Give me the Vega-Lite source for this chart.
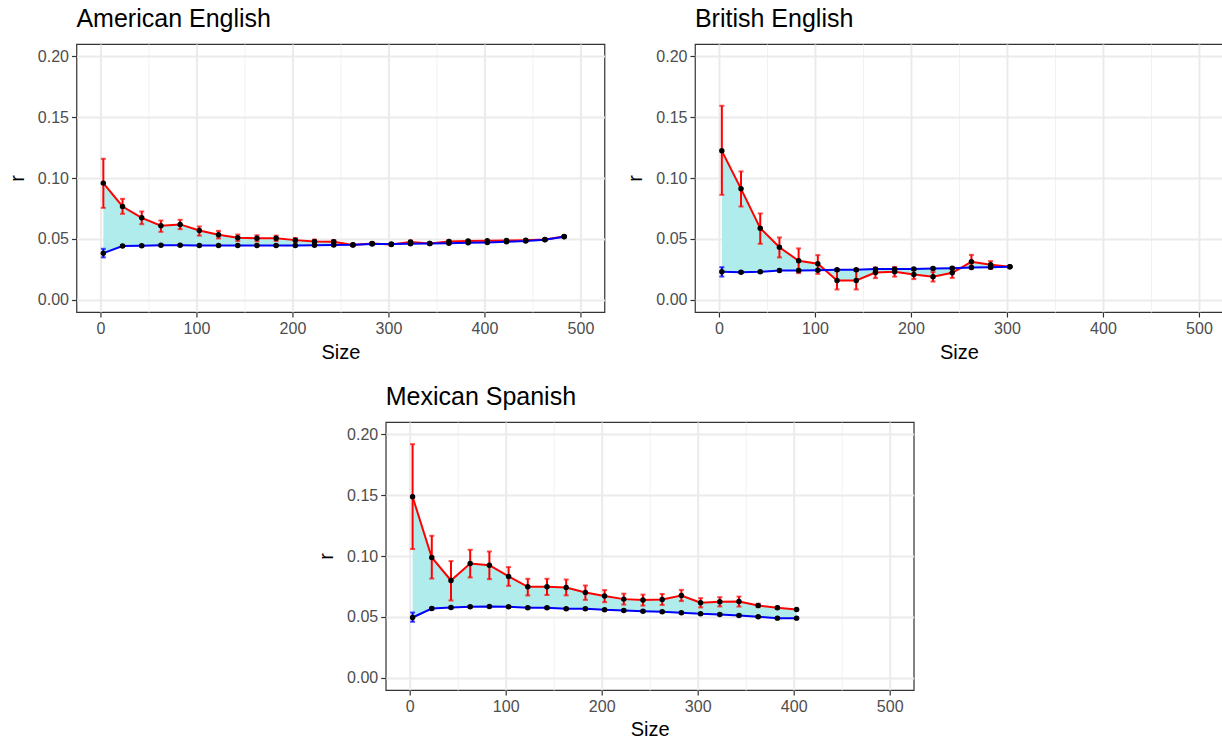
{
  "$schema": "https://vega.github.io/schema/vega-lite/v6.json",
  "background": "white",
  "padding": {"left": 6, "top": 6, "right": 0, "bottom": 0},
  "config": {
    "font": "Liberation Sans",
    "view": {"stroke": "#333333", "strokeWidth": 1.2},
    "axis": {
      "labelFont": "Liberation Sans", "labelFontSize": 16, "labelColor": "#4d4d4d",
      "titleFont": "Liberation Sans", "titleFontSize": 20, "titleColor": "#000000", "titleFontWeight": "normal",
      "tickColor": "#333333", "tickSize": 5, "tickWidth": 1.2, "domain": false,
      "gridColor": "#ebebeb", "labelPadding": 3
    },
    "title": {"font": "Liberation Sans", "fontSize": 25, "fontWeight": "normal", "anchor": "start", "frame": "group", "color": "#000000", "baseline": "alphabetic", "offset": 12},
    "concat": {"spacing": 19.5}
  },
  "datasets": {
    "d": [
      {"lang": "American English", "size": 3, "red": 0.0958, "redLo": 0.0755, "redHi": 0.1158, "blue": 0.0383, "blueLo": 0.0348, "blueHi": 0.0419},
      {"lang": "American English", "size": 23, "red": 0.0766, "redLo": 0.0706, "redHi": 0.0829, "blue": 0.0441, "blueLo": 0.0434, "blueHi": 0.0448},
      {"lang": "American English", "size": 43, "red": 0.0673, "redLo": 0.0621, "redHi": 0.0725, "blue": 0.0443, "blueLo": 0.0437, "blueHi": 0.0449},
      {"lang": "American English", "size": 63, "red": 0.0608, "redLo": 0.0558, "redHi": 0.0651, "blue": 0.0448, "blueLo": 0.0443, "blueHi": 0.0453},
      {"lang": "American English", "size": 83, "red": 0.0619, "redLo": 0.0580, "redHi": 0.0657, "blue": 0.0448, "blueLo": 0.0443, "blueHi": 0.0453},
      {"lang": "American English", "size": 103, "red": 0.0569, "redLo": 0.0527, "redHi": 0.0602, "blue": 0.0446, "blueLo": 0.0441, "blueHi": 0.0451},
      {"lang": "American English", "size": 123, "red": 0.0534, "redLo": 0.0504, "redHi": 0.0566, "blue": 0.0446, "blueLo": 0.0441, "blueHi": 0.0451},
      {"lang": "American English", "size": 143, "red": 0.0509, "redLo": 0.0482, "redHi": 0.0536, "blue": 0.0446, "blueLo": 0.0441, "blueHi": 0.0451},
      {"lang": "American English", "size": 163, "red": 0.0505, "redLo": 0.0480, "redHi": 0.0530, "blue": 0.0446, "blueLo": 0.0441, "blueHi": 0.0451},
      {"lang": "American English", "size": 183, "red": 0.0505, "redLo": 0.0483, "redHi": 0.0527, "blue": 0.0446, "blueLo": 0.0441, "blueHi": 0.0451},
      {"lang": "American English", "size": 203, "red": 0.0490, "redLo": 0.0472, "redHi": 0.0508, "blue": 0.0446, "blueLo": 0.0441, "blueHi": 0.0451},
      {"lang": "American English", "size": 223, "red": 0.0478, "redLo": 0.0462, "redHi": 0.0494, "blue": 0.0448, "blueLo": 0.0443, "blueHi": 0.0453},
      {"lang": "American English", "size": 243, "red": 0.0476, "redLo": 0.0461, "redHi": 0.0491, "blue": 0.0450, "blueLo": 0.0445, "blueHi": 0.0455},
      {"lang": "American English", "size": 263, "red": 0.0450, "redLo": 0.0440, "redHi": 0.0460, "blue": 0.0452, "blueLo": 0.0447, "blueHi": 0.0457},
      {"lang": "American English", "size": 283, "red": 0.0462, "redLo": 0.0452, "redHi": 0.0472, "blue": 0.0458, "blueLo": 0.0453, "blueHi": 0.0463},
      {"lang": "American English", "size": 303, "red": 0.0455, "redLo": 0.0446, "redHi": 0.0464, "blue": 0.0458, "blueLo": 0.0453, "blueHi": 0.0463},
      {"lang": "American English", "size": 323, "red": 0.0474, "redLo": 0.0462, "redHi": 0.0486, "blue": 0.0460, "blueLo": 0.0455, "blueHi": 0.0465},
      {"lang": "American English", "size": 343, "red": 0.0462, "redLo": 0.0455, "redHi": 0.0469, "blue": 0.0462, "blueLo": 0.0457, "blueHi": 0.0467},
      {"lang": "American English", "size": 363, "red": 0.0479, "redLo": 0.0470, "redHi": 0.0488, "blue": 0.0465, "blueLo": 0.0460, "blueHi": 0.0470},
      {"lang": "American English", "size": 383, "red": 0.0482, "redLo": 0.0474, "redHi": 0.0490, "blue": 0.0468, "blueLo": 0.0463, "blueHi": 0.0473},
      {"lang": "American English", "size": 403, "red": 0.0484, "redLo": 0.0477, "redHi": 0.0491, "blue": 0.0471, "blueLo": 0.0466, "blueHi": 0.0476},
      {"lang": "American English", "size": 423, "red": 0.0487, "redLo": 0.0481, "redHi": 0.0493, "blue": 0.0476, "blueLo": 0.0471, "blueHi": 0.0481},
      {"lang": "American English", "size": 443, "red": 0.0490, "redLo": 0.0485, "redHi": 0.0495, "blue": 0.0482, "blueLo": 0.0477, "blueHi": 0.0487},
      {"lang": "American English", "size": 463, "red": 0.0495, "redLo": 0.0491, "redHi": 0.0499, "blue": 0.0493, "blueLo": 0.0489, "blueHi": 0.0497},
      {"lang": "American English", "size": 483, "red": 0.0520, "redLo": 0.0517, "redHi": 0.0523, "blue": 0.0518, "blueLo": 0.0515, "blueHi": 0.0521},

      {"lang": "British English", "size": 3, "red": 0.1223, "redLo": 0.0862, "redHi": 0.1593, "blue": 0.0230, "blueLo": 0.0191, "blueHi": 0.0268},
      {"lang": "British English", "size": 23, "red": 0.0911, "redLo": 0.0766, "redHi": 0.1054, "blue": 0.0227, "blueLo": 0.0220, "blueHi": 0.0234},
      {"lang": "British English", "size": 43, "red": 0.0588, "redLo": 0.0460, "redHi": 0.0709, "blue": 0.0230, "blueLo": 0.0223, "blueHi": 0.0237},
      {"lang": "British English", "size": 63, "red": 0.0432, "redLo": 0.0348, "redHi": 0.0512, "blue": 0.0241, "blueLo": 0.0234, "blueHi": 0.0248},
      {"lang": "British English", "size": 83, "red": 0.0320, "redLo": 0.0219, "redHi": 0.0422, "blue": 0.0241, "blueLo": 0.0234, "blueHi": 0.0248},
      {"lang": "British English", "size": 103, "red": 0.0296, "redLo": 0.0213, "redHi": 0.0367, "blue": 0.0243, "blueLo": 0.0236, "blueHi": 0.0250},
      {"lang": "British English", "size": 123, "red": 0.0159, "redLo": 0.0085, "redHi": 0.0240, "blue": 0.0246, "blueLo": 0.0239, "blueHi": 0.0253},
      {"lang": "British English", "size": 143, "red": 0.0159, "redLo": 0.0085, "redHi": 0.0240, "blue": 0.0246, "blueLo": 0.0239, "blueHi": 0.0253},
      {"lang": "British English", "size": 163, "red": 0.0224, "redLo": 0.0178, "redHi": 0.0265, "blue": 0.0252, "blueLo": 0.0245, "blueHi": 0.0259},
      {"lang": "British English", "size": 183, "red": 0.0230, "redLo": 0.0190, "redHi": 0.0270, "blue": 0.0252, "blueLo": 0.0245, "blueHi": 0.0259},
      {"lang": "British English", "size": 203, "red": 0.0208, "redLo": 0.0170, "redHi": 0.0246, "blue": 0.0254, "blueLo": 0.0247, "blueHi": 0.0261},
      {"lang": "British English", "size": 223, "red": 0.0189, "redLo": 0.0150, "redHi": 0.0228, "blue": 0.0257, "blueLo": 0.0250, "blueHi": 0.0264},
      {"lang": "British English", "size": 243, "red": 0.0222, "redLo": 0.0180, "redHi": 0.0264, "blue": 0.0260, "blueLo": 0.0253, "blueHi": 0.0267},
      {"lang": "British English", "size": 263, "red": 0.0312, "redLo": 0.0260, "redHi": 0.0369, "blue": 0.0265, "blueLo": 0.0258, "blueHi": 0.0272},
      {"lang": "British English", "size": 283, "red": 0.0287, "redLo": 0.0255, "redHi": 0.0318, "blue": 0.0268, "blueLo": 0.0262, "blueHi": 0.0274},
      {"lang": "British English", "size": 303, "red": 0.0271, "redLo": 0.0268, "redHi": 0.0274, "blue": 0.0271, "blueLo": 0.0268, "blueHi": 0.0274},

      {"lang": "Mexican Spanish", "size": 3, "red": 0.1486, "redLo": 0.1057, "redHi": 0.1918, "blue": 0.0495, "blueLo": 0.0460, "blueHi": 0.0536},
      {"lang": "Mexican Spanish", "size": 23, "red": 0.0988, "redLo": 0.0815, "redHi": 0.1166, "blue": 0.0569, "blueLo": 0.0562, "blueHi": 0.0576},
      {"lang": "Mexican Spanish", "size": 43, "red": 0.0799, "redLo": 0.0635, "redHi": 0.0958, "blue": 0.0577, "blueLo": 0.0571, "blueHi": 0.0583},
      {"lang": "Mexican Spanish", "size": 63, "red": 0.0939, "redLo": 0.0824, "redHi": 0.1051, "blue": 0.0583, "blueLo": 0.0577, "blueHi": 0.0589},
      {"lang": "Mexican Spanish", "size": 83, "red": 0.0925, "redLo": 0.0810, "redHi": 0.1037, "blue": 0.0585, "blueLo": 0.0579, "blueHi": 0.0591},
      {"lang": "Mexican Spanish", "size": 103, "red": 0.0832, "redLo": 0.0755, "redHi": 0.0909, "blue": 0.0583, "blueLo": 0.0577, "blueHi": 0.0589},
      {"lang": "Mexican Spanish", "size": 123, "red": 0.0747, "redLo": 0.0676, "redHi": 0.0813, "blue": 0.0575, "blueLo": 0.0569, "blueHi": 0.0581},
      {"lang": "Mexican Spanish", "size": 143, "red": 0.0747, "redLo": 0.0680, "redHi": 0.0813, "blue": 0.0575, "blueLo": 0.0569, "blueHi": 0.0581},
      {"lang": "Mexican Spanish", "size": 163, "red": 0.0742, "redLo": 0.0677, "redHi": 0.0807, "blue": 0.0567, "blueLo": 0.0561, "blueHi": 0.0573},
      {"lang": "Mexican Spanish", "size": 183, "red": 0.0700, "redLo": 0.0640, "redHi": 0.0758, "blue": 0.0567, "blueLo": 0.0561, "blueHi": 0.0573},
      {"lang": "Mexican Spanish", "size": 203, "red": 0.0671, "redLo": 0.0621, "redHi": 0.0720, "blue": 0.0558, "blueLo": 0.0552, "blueHi": 0.0564},
      {"lang": "Mexican Spanish", "size": 223, "red": 0.0646, "redLo": 0.0601, "redHi": 0.0691, "blue": 0.0553, "blueLo": 0.0547, "blueHi": 0.0559},
      {"lang": "Mexican Spanish", "size": 243, "red": 0.0638, "redLo": 0.0593, "redHi": 0.0683, "blue": 0.0547, "blueLo": 0.0541, "blueHi": 0.0553},
      {"lang": "Mexican Spanish", "size": 263, "red": 0.0643, "redLo": 0.0598, "redHi": 0.0688, "blue": 0.0542, "blueLo": 0.0536, "blueHi": 0.0548},
      {"lang": "Mexican Spanish", "size": 283, "red": 0.0676, "redLo": 0.0630, "redHi": 0.0722, "blue": 0.0534, "blueLo": 0.0528, "blueHi": 0.0540},
      {"lang": "Mexican Spanish", "size": 303, "red": 0.0616, "redLo": 0.0578, "redHi": 0.0654, "blue": 0.0525, "blueLo": 0.0519, "blueHi": 0.0531},
      {"lang": "Mexican Spanish", "size": 323, "red": 0.0624, "redLo": 0.0586, "redHi": 0.0662, "blue": 0.0520, "blueLo": 0.0514, "blueHi": 0.0526},
      {"lang": "Mexican Spanish", "size": 343, "red": 0.0626, "redLo": 0.0585, "redHi": 0.0667, "blue": 0.0512, "blueLo": 0.0506, "blueHi": 0.0518},
      {"lang": "Mexican Spanish", "size": 363, "red": 0.0594, "redLo": 0.0580, "redHi": 0.0608, "blue": 0.0501, "blueLo": 0.0496, "blueHi": 0.0506},
      {"lang": "Mexican Spanish", "size": 383, "red": 0.0575, "redLo": 0.0565, "redHi": 0.0585, "blue": 0.0490, "blueLo": 0.0485, "blueHi": 0.0495},
      {"lang": "Mexican Spanish", "size": 403, "red": 0.0561, "redLo": 0.0556, "redHi": 0.0566, "blue": 0.0490, "blueLo": 0.0485, "blueHi": 0.0495}
    ]
  },
  "vconcat": [
    {
      "hconcat": [
        {
          "width": 528, "height": 268,
          "title": "American English",
          "data": {"name": "d"},
          "transform": [{"filter": "datum.lang === 'American English'"}],
          "encoding": {
            "x": {"field": "size", "type": "quantitative", "title": "Size",
              "scale": {"domain": [-25, 525], "nice": false, "zero": false},
              "axis": {"values": [0, 50, 100, 150, 200, 250, 300, 350, 400, 450, 500], "format": "d",
                "labelExpr": "datum.value % 100 === 0 ? datum.label : ''",
                "tickOpacity": {"condition": {"test": "datum.value % 100 !== 0", "value": 0}, "value": 1},
                "gridWidth": {"condition": {"test": "datum.value % 100 !== 0", "value": 1}, "value": 2},
                "gridColor": {"condition": {"test": "datum.value % 100 !== 0", "value": "#f2f2f2"}, "value": "#ebebeb"},
                "titlePadding": 6}
            }
          },
          "layer": [
            {"mark": {"type": "area", "color": "#b0ecec", "opacity": 1},
              "encoding": {"y": {"field": "red", "type": "quantitative", "title": "r",
                "scale": {"domain": [-0.01, 0.21], "nice": false, "zero": false},
                "axis": {"values": [0, 0.025, 0.05, 0.075, 0.1, 0.125, 0.15, 0.175, 0.2], "format": ".2f",
                  "labelExpr": "round(datum.value * 40) % 2 === 0 ? datum.label : ''",
                  "tickOpacity": {"condition": {"test": "round(datum.value * 40) % 2 === 1", "value": 0}, "value": 1},
                  "gridWidth": {"condition": {"test": "round(datum.value * 40) % 2 === 1", "value": 1}, "value": 2},
                  "gridColor": {"condition": {"test": "round(datum.value * 40) % 2 === 1", "value": "#f2f2f2"}, "value": "#ebebeb"},
                  "titlePadding": 10}},
                "y2": {"field": "blue"}}},
            {"mark": {"type": "line", "color": "#ff0000", "strokeWidth": 2}, "encoding": {"y": {"field": "red", "type": "quantitative", "title": "r"}}},
            {"mark": {"type": "line", "color": "#0000ff", "strokeWidth": 2}, "encoding": {"y": {"field": "blue", "type": "quantitative", "title": "r"}}},
            {"mark": {"type": "errorbar", "color": "#ff0000", "thickness": 2, "ticks": {"size": 5, "thickness": 2}}, "encoding": {"y": {"field": "redLo", "type": "quantitative", "title": "r"}, "y2": {"field": "redHi"}}},
            {"mark": {"type": "errorbar", "color": "#0000ff", "thickness": 2, "ticks": {"size": 5, "thickness": 2}}, "encoding": {"y": {"field": "blueLo", "type": "quantitative", "title": "r"}, "y2": {"field": "blueHi"}}},
            {"mark": {"type": "circle", "color": "#000000", "size": 30, "opacity": 1}, "encoding": {"y": {"field": "red", "type": "quantitative", "title": "r"}}},
            {"mark": {"type": "circle", "color": "#000000", "size": 30, "opacity": 1}, "encoding": {"y": {"field": "blue", "type": "quantitative", "title": "r"}}}
          ]
        },
        {
          "width": 528, "height": 268,
          "title": "British English",
          "data": {"name": "d"},
          "transform": [{"filter": "datum.lang === 'British English'"}],
          "encoding": {
            "x": {"field": "size", "type": "quantitative", "title": "Size",
              "scale": {"domain": [-25, 525], "nice": false, "zero": false},
              "axis": {"values": [0, 50, 100, 150, 200, 250, 300, 350, 400, 450, 500], "format": "d",
                "labelExpr": "datum.value % 100 === 0 ? datum.label : ''",
                "tickOpacity": {"condition": {"test": "datum.value % 100 !== 0", "value": 0}, "value": 1},
                "gridWidth": {"condition": {"test": "datum.value % 100 !== 0", "value": 1}, "value": 2},
                "gridColor": {"condition": {"test": "datum.value % 100 !== 0", "value": "#f2f2f2"}, "value": "#ebebeb"},
                "titlePadding": 6}
            }
          },
          "layer": [
            {"mark": {"type": "area", "color": "#b0ecec", "opacity": 1},
              "encoding": {"y": {"field": "red", "type": "quantitative", "title": "r",
                "scale": {"domain": [-0.01, 0.21], "nice": false, "zero": false},
                "axis": {"values": [0, 0.025, 0.05, 0.075, 0.1, 0.125, 0.15, 0.175, 0.2], "format": ".2f",
                  "labelExpr": "round(datum.value * 40) % 2 === 0 ? datum.label : ''",
                  "tickOpacity": {"condition": {"test": "round(datum.value * 40) % 2 === 1", "value": 0}, "value": 1},
                  "gridWidth": {"condition": {"test": "round(datum.value * 40) % 2 === 1", "value": 1}, "value": 2},
                  "gridColor": {"condition": {"test": "round(datum.value * 40) % 2 === 1", "value": "#f2f2f2"}, "value": "#ebebeb"},
                  "titlePadding": 10}},
                "y2": {"field": "blue"}}},
            {"mark": {"type": "line", "color": "#ff0000", "strokeWidth": 2}, "encoding": {"y": {"field": "red", "type": "quantitative", "title": "r"}}},
            {"mark": {"type": "line", "color": "#0000ff", "strokeWidth": 2}, "encoding": {"y": {"field": "blue", "type": "quantitative", "title": "r"}}},
            {"mark": {"type": "errorbar", "color": "#ff0000", "thickness": 2, "ticks": {"size": 5, "thickness": 2}}, "encoding": {"y": {"field": "redLo", "type": "quantitative", "title": "r"}, "y2": {"field": "redHi"}}},
            {"mark": {"type": "errorbar", "color": "#0000ff", "thickness": 2, "ticks": {"size": 5, "thickness": 2}}, "encoding": {"y": {"field": "blueLo", "type": "quantitative", "title": "r"}, "y2": {"field": "blueHi"}}},
            {"mark": {"type": "circle", "color": "#000000", "size": 30, "opacity": 1}, "encoding": {"y": {"field": "red", "type": "quantitative", "title": "r"}}},
            {"mark": {"type": "circle", "color": "#000000", "size": 30, "opacity": 1}, "encoding": {"y": {"field": "blue", "type": "quantitative", "title": "r"}}}
          ]
        }
      ]
    },
    {
      "width": 528, "height": 268,
      "title": "Mexican Spanish",
      "data": {"name": "d"},
      "transform": [{"filter": "datum.lang === 'Mexican Spanish'"}],
      "encoding": {
        "x": {"field": "size", "type": "quantitative", "title": "Size",
          "scale": {"domain": [-25, 525], "nice": false, "zero": false},
          "axis": {"values": [0, 50, 100, 150, 200, 250, 300, 350, 400, 450, 500], "format": "d",
            "labelExpr": "datum.value % 100 === 0 ? datum.label : ''",
            "tickOpacity": {"condition": {"test": "datum.value % 100 !== 0", "value": 0}, "value": 1},
            "gridWidth": {"condition": {"test": "datum.value % 100 !== 0", "value": 1}, "value": 2},
            "gridColor": {"condition": {"test": "datum.value % 100 !== 0", "value": "#f2f2f2"}, "value": "#ebebeb"},
            "titlePadding": 5}
        }
      },
      "layer": [
        {"mark": {"type": "area", "color": "#b0ecec", "opacity": 1},
          "encoding": {"y": {"field": "red", "type": "quantitative", "title": "r",
            "scale": {"domain": [-0.01, 0.21], "nice": false, "zero": false},
            "axis": {"values": [0, 0.025, 0.05, 0.075, 0.1, 0.125, 0.15, 0.175, 0.2], "format": ".2f",
              "labelExpr": "round(datum.value * 40) % 2 === 0 ? datum.label : ''",
              "tickOpacity": {"condition": {"test": "round(datum.value * 40) % 2 === 1", "value": 0}, "value": 1},
              "gridWidth": {"condition": {"test": "round(datum.value * 40) % 2 === 1", "value": 1}, "value": 2},
              "gridColor": {"condition": {"test": "round(datum.value * 40) % 2 === 1", "value": "#f2f2f2"}, "value": "#ebebeb"},
              "titlePadding": 10}},
            "y2": {"field": "blue"}}},
        {"mark": {"type": "line", "color": "#ff0000", "strokeWidth": 2}, "encoding": {"y": {"field": "red", "type": "quantitative", "title": "r"}}},
        {"mark": {"type": "line", "color": "#0000ff", "strokeWidth": 2}, "encoding": {"y": {"field": "blue", "type": "quantitative", "title": "r"}}},
        {"mark": {"type": "errorbar", "color": "#ff0000", "thickness": 2, "ticks": {"size": 5, "thickness": 2}}, "encoding": {"y": {"field": "redLo", "type": "quantitative", "title": "r"}, "y2": {"field": "redHi"}}},
        {"mark": {"type": "errorbar", "color": "#0000ff", "thickness": 2, "ticks": {"size": 5, "thickness": 2}}, "encoding": {"y": {"field": "blueLo", "type": "quantitative", "title": "r"}, "y2": {"field": "blueHi"}}},
        {"mark": {"type": "circle", "color": "#000000", "size": 30, "opacity": 1}, "encoding": {"y": {"field": "red", "type": "quantitative", "title": "r"}}},
        {"mark": {"type": "circle", "color": "#000000", "size": 30, "opacity": 1}, "encoding": {"y": {"field": "blue", "type": "quantitative", "title": "r"}}}
      ]
    }
  ],
  "center": true,
  "spacing": 21
}
